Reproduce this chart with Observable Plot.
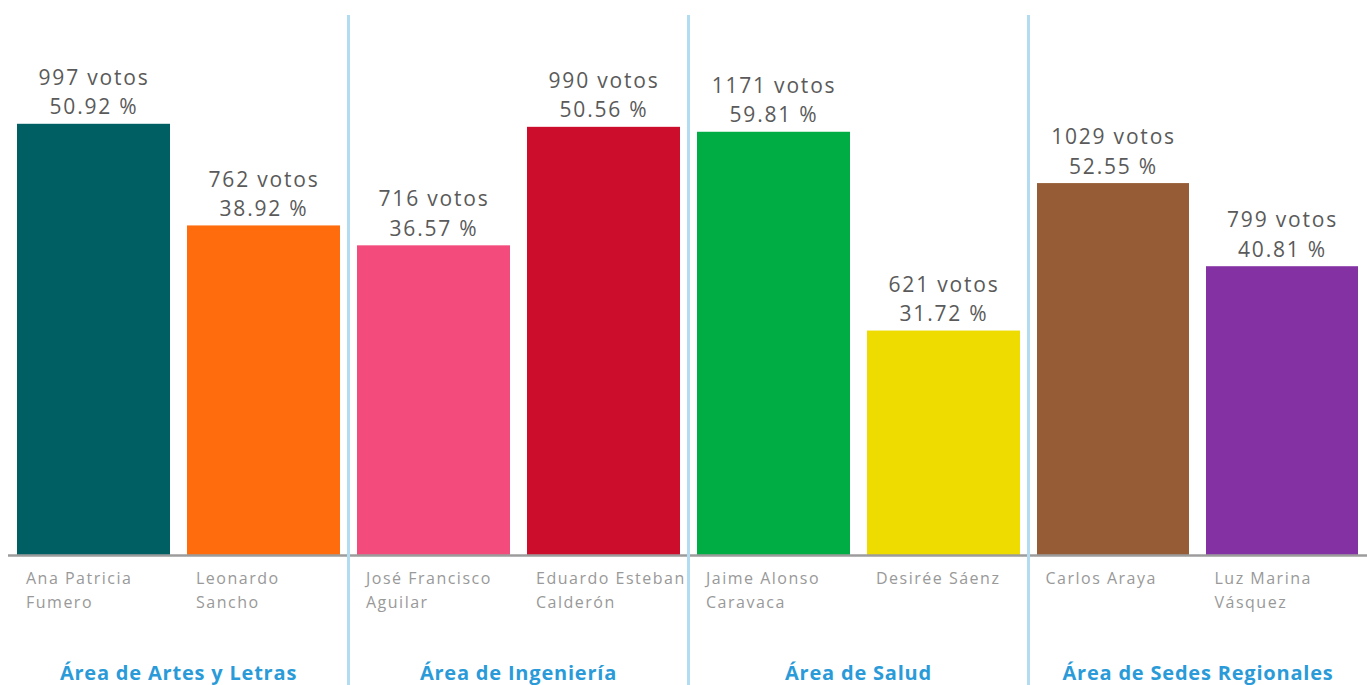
<!DOCTYPE html>
<html>
<head>
<meta charset="utf-8">
<script src="https://cdn.jsdelivr.net/npm/d3@7"></script>
<script src="https://cdn.jsdelivr.net/npm/@observablehq/plot@0.6"></script>
<style>
  html, body { margin: 0; padding: 0; background: #fff; }
  #chart { display: flex; padding-left: 8px; width: 1367px; height: 685px; box-sizing: border-box; overflow: hidden; }
  .section { position: relative; flex: none; }
  .section svg { display: block; }
  .divider { position: absolute; left: -1.5px; top: 15px; bottom: 0; width: 3px; background: #b3dcf1; }
</style>
</head>
<body>
<div id="chart"></div>
<script>
// ---- data ----
const areas = ["Área de Artes y Letras", "Área de Ingeniería", "Área de Salud", "Área de Sedes Regionales"];
const candidatos = ["Ana Patricia\nFumero", "Leonardo\nSancho", "José Francisco\nAguilar", "Eduardo Esteban\nCalderón",
                    "Jaime Alonso\nCaravaca", "Desirée Sáenz", "Carlos Araya", "Luz Marina\nVásquez"];
const areaDeCandidato = [0, 0, 1, 1, 2, 2, 3, 3];
const votos = [997, 762, 716, 990, 1171, 621, 1029, 799];
const porcentajes = ["50.92", "38.92", "36.57", "50.56", "59.81", "31.72", "52.55", "40.81"];
const colores = ["#005f63", "#ff6c0e", "#f24b7c", "#cc0e2c", "#00ad45", "#eedb00", "#955c35", "#8331a3"];

// ---- layout (each pair of areas in the original uses its own vertical scale) ----
const sectionWidths = [340, 340, 340, 339];
const yMax = [1200, 1200, 1400, 1400];
const marginTops = [36, 36, 49, 49];
const FONT = "'Open Sans', sans-serif";

const rows = candidatos.map((nombre, i) => ({
  nombre, area: areas[areaDeCandidato[i]], votos: votos[i], pct: porcentajes[i], color: colores[i]
}));

const chart = document.getElementById("chart");
areas.forEach((area, a) => {
  const data = rows.filter(r => r.area === area);
  const div = document.createElement("div");
  div.className = "section";
  div.style.width = sectionWidths[a] + "px";
  const svg = Plot.plot({
    width: sectionWidths[a],
    height: 685,
    marginTop: marginTops[a],
    marginBottom: 130,
    marginLeft: 0,
    marginRight: 0,
    style: { fontFamily: FONT, background: "transparent", overflow: "visible" },
    x: { domain: data.map(d => d.nombre), paddingInner: 0.1, paddingOuter: 0.05, axis: null },
    y: { domain: [0, yMax[a]], axis: null },
    color: { type: "identity" },
    marks: [
      Plot.barY(data, { x: "nombre", y: "votos", fill: "color" }),
      Plot.ruleY([0], { stroke: "#9c9c9c", strokeWidth: 2.5 }),
      Plot.text(data, {
        x: "nombre", y: "votos",
        text: d => `${d.votos} votos\n${d.pct} %`,
        lineAnchor: "bottom", lineHeight: 1.4, dy: -10,
        fontSize: 21, fontWeight: 500, fill: "#5a5a5a"
      }),
      Plot.text(data, {
        x: "nombre", frameAnchor: "bottom",
        text: "nombre",
        textAnchor: "start", lineAnchor: "top", lineHeight: 1.5,
        dx: -68, dy: 11, fontSize: 16, fill: "#999"
      }),
      Plot.text([area], {
        text: d => d, frameAnchor: "bottom", dy: 124,
        fontSize: 20, fontWeight: "bold", fill: "#2a9bd8"
      })
    ]
  });
  const textGroups = svg.querySelectorAll('g[aria-label="text"]');
  const spacing = ["1.8px", "1.5px", "0.8px"];
  textGroups.forEach((g, i) => { g.style.letterSpacing = spacing[i]; });
  div.appendChild(svg);
  if (a > 0) {
    const line = document.createElement("div");
    line.className = "divider";
    div.appendChild(line);
  }
  chart.appendChild(div);
});
</script>
</body>
</html>
